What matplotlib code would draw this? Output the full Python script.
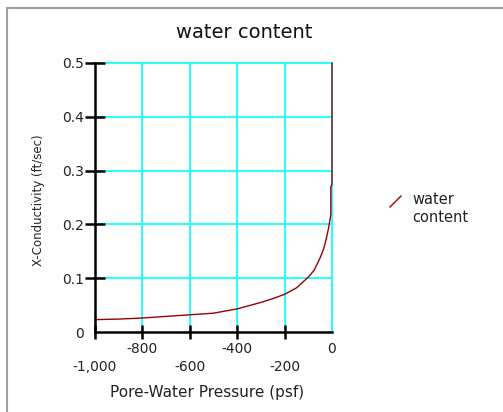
import matplotlib
matplotlib.use("Agg")
import matplotlib.pyplot as plt
from matplotlib.lines import Line2D

# ---- data ----
pressure = [-1000, -900, -800, -700, -600, -500, -400, -300, -250, -200, -150,
            -100, -75, -50, -35, -25, -15, -10, -6, -5, -5, 0, 0]
conductivity = [0.023, 0.024, 0.026, 0.029, 0.032, 0.035, 0.043, 0.055, 0.062,
                0.070, 0.082, 0.102, 0.115, 0.138, 0.155, 0.172, 0.192, 0.205,
                0.215, 0.22, 0.27, 0.275, 0.5]
x_ticks_row1 = [-800, -400, 0]
x_labels_row1 = ["-800", "-400", "0"]
x_ticks_row2 = [-1000, -600, -200]
x_labels_row2 = ["-1,000", "-600", "-200"]
y_ticks = [0, 0.1, 0.2, 0.3, 0.4, 0.5]
y_labels = ["0", "0.1", "0.2", "0.3", "0.4", "0.5"]
title = "water content"
xlabel = "Pore-Water Pressure (psf)"
ylabel = "X-Conductivity (ft/sec)"
legend_label = ["water", "content"]

W, H = 503, 412
plt.rcParams['font.family'] = ['DejaVu Sans']
fig = plt.figure(figsize=(W / 100, H / 100), dpi=100)
fig.patch.set_facecolor('white')

def fx(px):
    return px / W

def fy(py):
    return 1 - py / H

ax = fig.add_axes([fx(95), fy(332), fx(332) - fx(95), fy(63) - fy(332)])
curve_color = '#990000'
ax.plot(pressure, conductivity, color=curve_color, lw=1.0, zorder=5,
        solid_joinstyle='miter', clip_on=False)
ax.set_xlim(-1000, 0)
ax.set_ylim(0, 0.5)

cyan = '#00FFFF'
for s in ['top', 'right']:
    ax.spines[s].set_color(cyan)
    ax.spines[s].set_linewidth(1.2)
    ax.spines[s].set_zorder(1)
for s in ['left', 'bottom']:
    ax.spines[s].set_color('black')
    ax.spines[s].set_linewidth(1.8)
    ax.spines[s].set_zorder(6)

ax.set_xticks(x_ticks_row1)
ax.set_xticklabels(x_labels_row1)
ax.set_xticks(x_ticks_row2, minor=True)
ax.set_xticklabels(x_labels_row2, minor=True)
ax.set_yticks(y_ticks)
ax.set_yticklabels(y_labels)
for v in x_ticks_row1 + x_ticks_row2:
    if -1000 < v < 0:
        ax.axvline(v, color=cyan, lw=1.2, zorder=1)
for v in y_ticks:
    if 0 < v < 0.5:
        ax.axhline(v, color=cyan, lw=1.2, zorder=1)

ax.tick_params(axis='x', which='both', direction='inout', length=10, width=1.8,
               color='black', labelsize=10, labelcolor='#222222')
ax.tick_params(axis='x', which='major', pad=2)
ax.tick_params(axis='x', which='minor', pad=15)
ax.tick_params(axis='y', direction='inout', length=14, width=1.8,
               color='black', labelsize=10, labelcolor='#222222', pad=1)
ax.xaxis.get_major_ticks()[-1].tick1line.set_visible(False)
ax.yaxis.get_major_ticks()[0].tick1line.set_visible(False)

fig.text(fx(244), fy(33), title, ha='center', va='center', fontsize=14,
         color='#111111')
fig.text(fx(207), fy(393), xlabel, ha='center', va='center', fontsize=11,
         color='#222222')
fig.text(fx(39), fy(200), ylabel, ha='center', va='center', fontsize=8.5,
         rotation=90, color='#222222')

fig.add_artist(Line2D([fx(390), fx(401)], [fy(207), fy(196)],
                      color=curve_color, lw=1.0))
fig.text(fx(412), fy(204), legend_label[0], ha='left', va='baseline',
         fontsize=10.5, color='#222222')
fig.text(fx(412), fy(222), legend_label[1], ha='left', va='baseline',
         fontsize=10.5, color='#222222')

frame_c = '#a0a0a0'
fig.add_artist(Line2D([fx(7), fx(503)], [fy(8), fy(8)], color=frame_c, lw=1.5))
fig.add_artist(Line2D([fx(7), fx(7)], [fy(8), fy(412)], color=frame_c, lw=1.5))

fig.savefig('out.png', dpi=100, facecolor='white')
